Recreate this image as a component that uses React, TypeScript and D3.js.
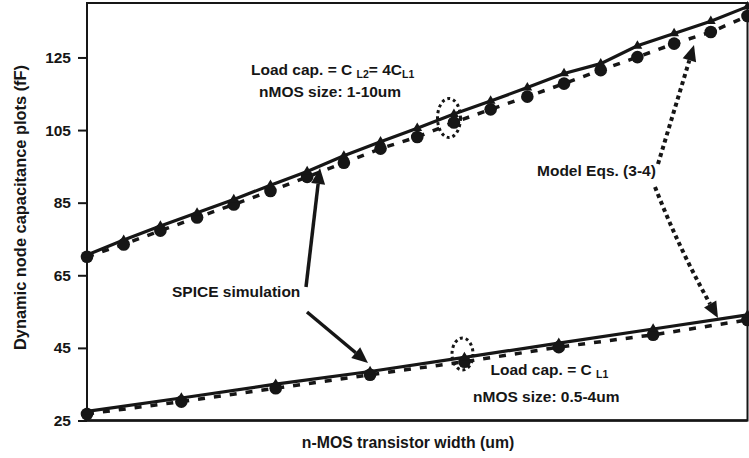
import React, { useEffect, useRef } from 'react'
import * as d3 from 'd3'

const W = 749
const H = 458
const margin = { top: 3, right: 1.5, bottom: 37.5, left: 87 }

// nMOS width sweeps (um)
const topWidths = [1, 1.5, 2, 2.5, 3, 3.5, 4, 4.5, 5, 5.5, 6, 6.5, 7, 7.5, 8, 8.5, 9, 9.5, 10]
const botWidths = [0.5, 1, 1.5, 2, 2.5, 3, 3.5, 4]

// load = CL2 = 4CL1
const topModel = [70.1, 73.5, 77.3, 80.9, 84.5, 88.2, 92.1, 96.0, 99.9, 103.1, 107.1, 110.7, 114.2, 117.8, 121.5, 125.1, 128.8, 132.0, 136.4]
const topSpice = [70.6, 74.7, 78.6, 82.2, 85.9, 89.8, 93.6, 97.9, 101.8, 105.5, 109.4, 113.0, 116.7, 120.6, 123.3, 128.2, 131.6, 135.0, 139.0]

// load = CL1
const botModel = [26.8, 30.2, 33.9, 37.6, 41.2, 45.2, 48.6, 52.7]
const botSpice = [27.5, 31.2, 35.0, 38.5, 42.4, 46.3, 50.2, 54.1]

const yTicks = [25, 45, 65, 85, 105, 125]
const yDomain = [25, 140]

const font = '"Liberation Sans", Arial, Helvetica, sans-serif'
const ink = '#161616'

const x0 = margin.left
const x1 = W - margin.right
const yTop = margin.top
const yBot = H - margin.bottom

const xTop = d3.scaleLinear().domain([1, 10]).range([x0, x1])
const xBot = d3.scaleLinear().domain([0.5, 4]).range([x0, x1])
const y = d3.scaleLinear().domain(yDomain).range([yBot, yTop])

const triangle = d3.symbol(d3.symbolTriangle, 42)()

// filled head at (tx,ty) coming from direction (fx,fy)
function head(fx: number, fy: number, tx: number, ty: number, len: number, wid: number) {
  const dx = tx - fx
  const dy = ty - fy
  const d = Math.hypot(dx, dy)
  const ux = dx / d
  const uy = dy / d
  const bx = tx - ux * len
  const by = ty - uy * len
  const px = -uy * wid / 2
  const py = ux * wid / 2
  return {
    base: [bx, by],
    pts: `${tx},${ty} ${bx + px},${by + py} ${bx - px},${by - py}`,
  }
}

function Series({ xs, scaleX, model, spice }: { xs: number[], scaleX: any, model: number[], spice: number[] }) {
  const line = d3.line<number>()
    .x((_, i) => scaleX(xs[i]))
    .y(d => y(d))
  return (
    <g>
      <path d={line(model) || ''} fill="none" stroke={ink} strokeWidth={3.5} strokeDasharray="7 9" />
      <path d={line(spice) || ''} fill="none" stroke={ink} strokeWidth={3.2} />
      {model.map((v, i) => (
        <circle key={'c' + i} cx={scaleX(xs[i])} cy={y(v)} r={6.3} fill={ink} />
      ))}
      {spice.map((v, i) => (
        <path key={'t' + i} d={triangle || ''} transform={`translate(${scaleX(xs[i])},${y(v)})`} fill={ink} />
      ))}
    </g>
  )
}

function Arrow({ from, to, dotted, curve }: { from: number[], to: number[], dotted?: boolean, curve?: number[] }) {
  const ref = curve || from
  const h = head(ref[0], ref[1], to[0], to[1], 16, 14)
  const d = curve
    ? `M${from[0]},${from[1]} Q${curve[0]},${curve[1]} ${h.base[0]},${h.base[1]}`
    : `M${from[0]},${from[1]} L${h.base[0]},${h.base[1]}`
  return (
    <g>
      <path d={d} fill="none" stroke={ink} strokeWidth={dotted ? 4 : 3.5}
        strokeDasharray={dotted ? '4 3.5' : undefined} />
      <polygon points={h.pts} fill={ink} />
    </g>
  )
}

const textStyle = { fontFamily: font, fontWeight: 'bold' as const, fill: ink }

export default function App() {
  const axisRef = useRef<SVGGElement>(null)

  useEffect(() => {
    const g = d3.select(axisRef.current)
    g.call(d3.axisLeft(y).tickValues(yTicks).tickSize(9).tickPadding(7) as any)
    g.select('.domain').remove()
    g.selectAll('line').attr('stroke', ink).attr('stroke-width', 2)
    g.selectAll('text')
      .attr('font-family', font)
      .attr('font-size', 15.5)
      .attr('font-weight', 'bold')
      .attr('fill', ink)
  }, [])

  return (
    <svg width={W} height={H} style={{ position: 'absolute', left: 0, top: 0, background: '#fff' }}>
      <rect x={0} y={0} width={W} height={H} fill="#fff" />
      <rect x={x0} y={yTop} width={x1 - x0} height={yBot - yTop} fill="none" stroke={ink} strokeWidth={2} />
      <line x1={x0} x2={x1} y1={yBot} y2={yBot} stroke={ink} strokeWidth={2.6} />
      <g ref={axisRef} transform={`translate(${x0},0)`} />

      <Series xs={topWidths} scaleX={xTop} model={topModel} spice={topSpice} />
      <Series xs={botWidths} scaleX={xBot} model={botModel} spice={botSpice} />

      {/* dotted highlight rings */}
      <ellipse cx={449} cy={118} rx={11.5} ry={19.5} fill="none" stroke={ink} strokeWidth={3} strokeDasharray="3 3" />
      <ellipse cx={462.5} cy={354} rx={10.5} ry={16} fill="none" stroke={ink} strokeWidth={3} strokeDasharray="3 3" />

      {/* annotations */}
      <Arrow from={[306, 287]} to={[320, 168]} />
      <Arrow from={[307, 312]} to={[368, 363]} />
      <Arrow from={[658, 164]} to={[694, 45]} dotted />
      <Arrow from={[655, 187]} to={[718, 318]} curve={[679.5, 249.5]} dotted />

      <text x={251} y={75} fontSize={15.5} {...textStyle}>
        Load cap. = C <tspan fontSize={10.5} dy={3}>L2</tspan><tspan dy={-3}>= 4C</tspan><tspan fontSize={10.5} dy={3}>L1</tspan>
      </text>
      <text x={259} y={97} fontSize={15.5} {...textStyle}>nMOS size: 1-10um</text>

      <text x={490.5} y={375} fontSize={15.5} {...textStyle}>
        Load cap. = C <tspan fontSize={10.5} dy={3}>L1</tspan>
      </text>
      <text x={473} y={401.5} fontSize={15.5} {...textStyle}>nMOS size: 0.5-4um</text>

      <text x={172} y={297} fontSize={15.5} {...textStyle}>SPICE simulation</text>
      <text x={537} y={176} fontSize={15.5} {...textStyle}>Model Eqs. (3-4)</text>

      <text x={408} y={447.5} fontSize={15.8} textAnchor="middle" {...textStyle}>n-MOS transistor width (um)</text>
      <text transform="translate(25.5,207.5) rotate(-90)" fontSize={16.4} textAnchor="middle" {...textStyle}>
        Dynamic node capacitance plots (fF)
      </text>
    </svg>
  )
}
